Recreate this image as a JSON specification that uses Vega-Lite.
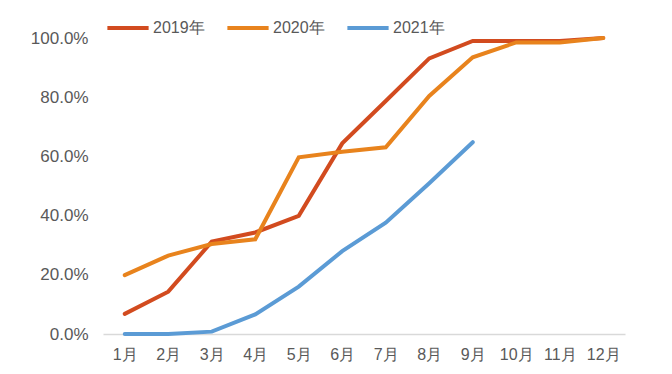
{
  "$schema": "https://vega.github.io/schema/vega-lite/v6.json",
  "width": 522,
  "height": 296,
  "padding": {"left": 103, "top": 38, "right": 47, "bottom": 40},
  "autosize": {"type": "none"},
  "background": "white",
  "config": {
    "view": {"stroke": null},
    "font": "Liberation Sans"
  },
  "data": {
    "values": [
      {"month": "1月", "year": "2019年", "v": 0.068},
      {"month": "2月", "year": "2019年", "v": 0.143},
      {"month": "3月", "year": "2019年", "v": 0.312},
      {"month": "4月", "year": "2019年", "v": 0.343},
      {"month": "5月", "year": "2019年", "v": 0.399},
      {"month": "6月", "year": "2019年", "v": 0.644},
      {"month": "7月", "year": "2019年", "v": 0.787},
      {"month": "8月", "year": "2019年", "v": 0.931},
      {"month": "9月", "year": "2019年", "v": 0.99},
      {"month": "10月", "year": "2019年", "v": 0.99},
      {"month": "11月", "year": "2019年", "v": 0.99},
      {"month": "12月", "year": "2019年", "v": 1.0},
      {"month": "1月", "year": "2020年", "v": 0.199},
      {"month": "2月", "year": "2020年", "v": 0.265},
      {"month": "3月", "year": "2020年", "v": 0.304},
      {"month": "4月", "year": "2020年", "v": 0.32},
      {"month": "5月", "year": "2020年", "v": 0.597},
      {"month": "6月", "year": "2020年", "v": 0.616},
      {"month": "7月", "year": "2020年", "v": 0.631},
      {"month": "8月", "year": "2020年", "v": 0.804},
      {"month": "9月", "year": "2020年", "v": 0.935},
      {"month": "10月", "year": "2020年", "v": 0.985},
      {"month": "11月", "year": "2020年", "v": 0.985},
      {"month": "12月", "year": "2020年", "v": 1.0},
      {"month": "1月", "year": "2021年", "v": 0.0},
      {"month": "2月", "year": "2021年", "v": 0.0},
      {"month": "3月", "year": "2021年", "v": 0.008},
      {"month": "4月", "year": "2021年", "v": 0.066},
      {"month": "5月", "year": "2021年", "v": 0.16},
      {"month": "6月", "year": "2021年", "v": 0.28},
      {"month": "7月", "year": "2021年", "v": 0.376},
      {"month": "8月", "year": "2021年", "v": 0.509},
      {"month": "9月", "year": "2021年", "v": 0.648}
    ]
  },
  "mark": {"type": "line", "strokeWidth": 4, "strokeCap": "round", "strokeJoin": "miter"},
  "encoding": {
    "x": {
      "field": "month",
      "type": "ordinal",
      "sort": ["1月","2月","3月","4月","5月","6月","7月","8月","9月","10月","11月","12月"],
      "scale": {"paddingOuter": 0.5, "paddingInner": 0},
      "axis": {
        "title": null,
        "labelAngle": 0,
        "ticks": false,
        "domainColor": "#d9d9d9",
        "domainWidth": 1.5,
        "labelFontSize": 16,
        "labelColor": "#595959",
        "labelPadding": 12,
        "grid": false
      }
    },
    "y": {
      "field": "v",
      "type": "quantitative",
      "scale": {"domain": [0, 1]},
      "axis": {
        "title": null,
        "format": ".1%",
        "values": [0, 0.2, 0.4, 0.6, 0.8, 1.0],
        "domain": false,
        "ticks": false,
        "grid": false,
        "labelFontSize": 17,
        "labelColor": "#595959",
        "labelPadding": 15
      }
    },
    "color": {
      "field": "year",
      "type": "nominal",
      "scale": {"domain": ["2019年", "2020年", "2021年"], "range": ["#D24B1F", "#E8831D", "#5B9BD5"]},
      "legend": {
        "title": null,
        "orient": "none",
        "direction": "horizontal",
        "legendX": 2,
        "legendY": -33,
        "symbolType": "stroke",
        "symbolSize": 1700,
        "symbolStrokeWidth": 4,
        "labelFontSize": 16,
        "labelColor": "#595959",
        "labelOffset": 2,
        "columnPadding": 14
      }
    }
  }
}
